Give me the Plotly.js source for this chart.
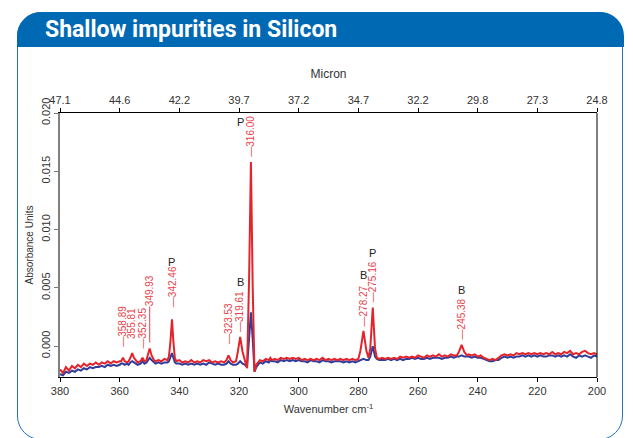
<!DOCTYPE html>
<html><head><meta charset="utf-8">
<script src="https://cdn.plot.ly/plotly-3.0.1.min.js"></script>
<style>
body{margin:0;background:#fff;}
#wrap{position:relative;width:633px;height:438px;overflow:hidden;background:#fff;}
#frame{position:absolute;left:17px;top:12px;width:604px;height:426px;border:1.5px solid #1f72b8;border-radius:24px;}
#band{position:absolute;left:17px;top:12px;width:607px;height:35px;background:#0069b4;border-radius:24px 24px 0 0;}
#chart{position:absolute;left:0;top:0;width:633px;height:438px;}
</style></head>
<body>
<div id="wrap"><div id="frame"></div><div id="band"></div><div id="chart"></div></div>
<script>
// Wavenumber (cm-1)
const wavenumber = [380,379,378,377,376,375,374,373,372,371,370,369,368,367,366,365,364,363,362,361,360,
359.5,358.9,358.3,357.5,357,356.4,355.8,355.2,354.5,354,353,352.35,351.7,351,350.5,349.93,349.3,348.5,348,347,346,345,344,
343.5,343,342.46,342,341.5,341,340,339,338,337,336,335,334,333,332,331,330,329,328,327,326,325,
324.2,323.53,322.8,322,321,320.4,319.61,318.8,318,317.3,316.6,316,315.4,314.8,314.2,313.5,313,312,311,310,309.5,309,308,307,306,305,304,303,302,301,300,
299,298,297,296,295,294,293,292,291,290,289,288,287,286,285,284,283,282,281,280,
279.3,278.27,277.3,276.6,276,275.16,274.4,273.8,273,272,271,270,269,268,267,266,265,264,263,262,261,260,
259,258,257,256,255,254,253,252,251,250,249,248,247,246.3,245.38,244.5,243.5,243,242,241,240,
239,238,237,236,235,234,233,232,231,230,229,228,227,226,225,224,223,222,221,220,
219,218,217,216,215,214,213,212,211,210,209,208,207,206,205,204,203,202,201,200];

// Red spectrum (absorbance units)
const redAbs = [-0.0020,-0.0023,-0.0018,-0.0021,-0.0017,-0.0019,-0.0016,-0.0018,-0.0015,-0.0017,-0.0015,-0.0016,-0.0014,-0.0016,-0.0014,-0.0015,-0.0013,-0.0015,-0.0013,-0.0014,-0.0013,
-0.0013,-0.0010,-0.0013,-0.0014,-0.0013,-0.0010,-0.0006,-0.0010,-0.0013,-0.0014,-0.0013,-0.0010,-0.0013,-0.0012,-0.0007,-0.0002,-0.0008,-0.0012,-0.0013,-0.0012,-0.0013,-0.0011,-0.0012,
-0.0009,0.0003,0.0023,0.0004,-0.0010,-0.0013,-0.0012,-0.0014,-0.0013,-0.0014,-0.0012,-0.0014,-0.0013,-0.0014,-0.0012,-0.0013,-0.0012,-0.0014,-0.0013,-0.0014,-0.0013,-0.0014,
-0.0012,-0.0008,-0.0012,-0.0014,-0.0013,-0.0005,0.0008,-0.0005,-0.0014,-0.0019,0.0060,0.0158,0.0050,-0.0022,-0.0016,-0.0013,-0.0012,-0.0013,-0.0011,-0.0012,-0.0010,-0.0012,-0.0011,-0.0012,-0.0010,-0.0011,-0.0010,-0.0011,-0.0010,-0.0011,-0.0010,
-0.0012,-0.0011,-0.0012,-0.0011,-0.0012,-0.0011,-0.0012,-0.0010,-0.0012,-0.0011,-0.0012,-0.0011,-0.0012,-0.0011,-0.0012,-0.0011,-0.0012,-0.0011,-0.0012,-0.0011,
-0.0004,0.0013,-0.0004,-0.0010,-0.0002,0.0033,-0.0002,-0.0010,-0.0011,-0.0010,-0.0011,-0.0010,-0.0011,-0.0010,-0.0011,-0.0009,-0.0010,-0.0009,-0.0010,-0.0009,-0.0010,-0.0008,
-0.0009,-0.0010,-0.0008,-0.0009,-0.0008,-0.0009,-0.0007,-0.0009,-0.0008,-0.0009,-0.0007,-0.0008,-0.0008,-0.0005,0.0001,-0.0005,-0.0008,-0.0007,-0.0008,-0.0007,-0.0009,
-0.0008,-0.0010,-0.0011,-0.0012,-0.0011,-0.0012,-0.0010,-0.0008,-0.0007,-0.0008,-0.0007,-0.0008,-0.0006,-0.0007,-0.0006,-0.0007,-0.0006,-0.0007,-0.0006,-0.0007,
-0.0006,-0.0007,-0.0006,-0.0007,-0.0005,-0.0007,-0.0006,-0.0007,-0.0005,-0.0006,-0.0004,-0.0007,-0.0006,-0.0007,-0.0005,-0.0004,-0.0006,-0.0007,-0.0006,-0.0007];

// Blue spectrum (absorbance units)
const blueAbs = [-0.0024,-0.0025,-0.0022,-0.0023,-0.0021,-0.0022,-0.0020,-0.0021,-0.0019,-0.0020,-0.0018,-0.0019,-0.0018,-0.0018,-0.0017,-0.0018,-0.0016,-0.0017,-0.0016,-0.0017,-0.0016,
-0.0015,-0.0015,-0.0016,-0.0015,-0.0016,-0.0014,-0.0013,-0.0014,-0.0015,-0.0016,-0.0015,-0.0013,-0.0015,-0.0014,-0.0012,-0.0010,-0.0012,-0.0014,-0.0015,-0.0014,-0.0015,-0.0014,-0.0014,
-0.0013,-0.0010,-0.0006,-0.0010,-0.0014,-0.0015,-0.0015,-0.0016,-0.0015,-0.0016,-0.0015,-0.0016,-0.0015,-0.0016,-0.0015,-0.0016,-0.0014,-0.0015,-0.0016,-0.0015,-0.0016,-0.0016,
-0.0015,-0.0013,-0.0015,-0.0016,-0.0016,-0.0015,-0.0013,-0.0015,-0.0016,-0.0018,0.0008,0.0029,0.0006,-0.0022,-0.0018,-0.0015,-0.0014,-0.0015,-0.0013,-0.0014,-0.0012,-0.0013,-0.0013,-0.0014,-0.0012,-0.0013,-0.0012,-0.0013,-0.0012,-0.0013,-0.0012,
-0.0013,-0.0013,-0.0014,-0.0012,-0.0013,-0.0013,-0.0014,-0.0012,-0.0013,-0.0013,-0.0014,-0.0013,-0.0013,-0.0013,-0.0014,-0.0013,-0.0014,-0.0013,-0.0014,-0.0013,
-0.0012,-0.0011,-0.0012,-0.0012,-0.0009,0.0000,-0.0009,-0.0011,-0.0012,-0.0012,-0.0012,-0.0011,-0.0012,-0.0011,-0.0012,-0.0011,-0.0012,-0.0011,-0.0011,-0.0010,-0.0011,-0.0010,
-0.0011,-0.0011,-0.0010,-0.0011,-0.0010,-0.0010,-0.0010,-0.0011,-0.0010,-0.0010,-0.0009,-0.0010,-0.0009,-0.0009,-0.0008,-0.0009,-0.0009,-0.0009,-0.0010,-0.0009,-0.0010,
-0.0010,-0.0011,-0.0012,-0.0013,-0.0013,-0.0012,-0.0012,-0.0010,-0.0009,-0.0010,-0.0009,-0.0010,-0.0009,-0.0009,-0.0008,-0.0009,-0.0008,-0.0009,-0.0008,-0.0009,
-0.0008,-0.0009,-0.0009,-0.0008,-0.0008,-0.0009,-0.0008,-0.0009,-0.0008,-0.0009,-0.0007,-0.0009,-0.0010,-0.0008,-0.0009,-0.0008,-0.0009,-0.0010,-0.0008,-0.0009];

// Axis ticks
const xTickVals = [380,360,340,320,300,280,260,240,220,200];
const micronLabels = ['47.1','44.6','42.2','39.7','37.2','34.7','32.2','29.8','27.3','24.8'];
const yTickVals = [0.000,0.005,0.010,0.015,0.020];

// Peak labels
const peakWn = [358.89,355.81,352.35,342.46,323.53,319.61,316.00,278.27,275.16,245.38];
const peakText = ['358.89','355.81','352.35','342.46','323.53','319.61','316.00','278.27','275.16','245.38'];
const peakDash = [true,false,true,true,true,true,true,true,true,true];
const peakLabelY = [-0.0001,0.0005,-0.0003,0.0033,0.0001,0.0011,0.0162,0.0016,0.0037,0.0005];
// Leader-line label
const leaderWn = 349.93, leaderText = '349.93', leaderPeak = -0.0002;

// Impurity letters
const letterWn = [342.46,319.61,319.5,278.27,275.16,245.38];
const letterText = ['P','B','P','B','P','B'];
const letterY = [0.0072,0.0055,0.0192,0.0061,0.0080,0.0048];

const RED = '#e3242b', BLUE = '#2e3d9c', LABELRED = '#e8434b';
const FONT = 'Liberation Sans, Arial, Helvetica, sans-serif';

const traces = [
  {x: wavenumber, y: blueAbs, type:'scatter', mode:'lines', line:{color:BLUE, width:2}, showlegend:false, hoverinfo:'skip'},
  {x: wavenumber, y: redAbs, type:'scatter', mode:'lines', line:{color:RED, width:2}, showlegend:false, hoverinfo:'skip'},
  {x: wavenumber, y: redAbs, xaxis:'x2', type:'scatter', mode:'none', showlegend:false, hoverinfo:'skip'}
];

const annotations = [];
peakWn.forEach((w,i)=>{
  annotations.push({x:w, y:peakLabelY[i], xref:'x', yref:'y', text:(peakDash[i]?'\u2014':'')+peakText[i],
    showarrow:false, textangle:-90, xanchor:'center', yanchor:'bottom', borderpad:0,
    font:{family:FONT, size:10, color:LABELRED}});
});
annotations.push({x:leaderWn, y:leaderPeak, xref:'x', yref:'y', text:leaderText, showarrow:true, arrowhead:0,
  arrowwidth:1, arrowcolor:LABELRED, ax:0, ay:-58, standoff:6, textangle:-90, borderpad:0,
  font:{family:FONT, size:10, color:LABELRED}});
letterWn.forEach((w,i)=>{
  annotations.push({x:w, y:letterY[i], xref:'x', yref:'y', text:letterText[i], showarrow:false,
    xanchor:'center', yanchor:'middle', font:{family:FONT, size:11, color:'#222'}});
});

const layout = {
  width:633, height:438,
  margin:{l:60, r:36, t:113, b:61},
  paper_bgcolor:'rgba(0,0,0,0)', plot_bgcolor:'rgba(0,0,0,0)',
  font:{family:FONT, color:'#333'},
  title:{text:'Shallow impurities in Silicon', xref:'container', yref:'container', x:45/633, xanchor:'left',
    y:1-29/438, yanchor:'middle', font:{family:'Liberation Sans Narrow, Arial Narrow, Roboto, sans-serif', size:23, color:'#ffffff', weight:'bold'}},
  xaxis:{range:[380,200], tickvals:xTickVals, ticks:'outside', ticklen:4, tickcolor:'#000', showline:true, linecolor:'#000', linewidth:1,
    showgrid:false, zeroline:false, tickfont:{family:FONT, size:11, color:'#333'},
    title:{text:'Wavenumber cm<sup>-1</sup>', font:{family:FONT, size:11, color:'#333'}, standoff:9}},
  xaxis2:{overlaying:'x', side:'top', range:[380,200], tickvals:xTickVals, ticktext:micronLabels, ticks:'outside', ticklen:4,
    tickcolor:'#000', showline:true, linecolor:'#000', linewidth:1, showgrid:false, zeroline:false,
    tickfont:{family:FONT, size:11, color:'#333'},
    title:{text:'Micron', font:{family:FONT, size:12, color:'#333'}, standoff:12}},
  yaxis:{range:[-0.00265,0.020], tickvals:yTickVals, tickformat:'.3f', tickangle:-90, ticks:'outside', ticklen:4, tickcolor:'#777',
    showline:true, linecolor:'#808080', linewidth:2, showgrid:false, zeroline:false,
    tickfont:{family:FONT, size:11, color:'#333'},
    title:{text:'Absorbance Units', font:{family:FONT, size:10, color:'#333'}, standoff:4}},
  shapes:[{type:'line', xref:'paper', yref:'paper', x0:1, x1:1, y0:0, y1:1, line:{color:'#000', width:1}}],
  annotations: annotations
};

Plotly.newPlot('chart', traces, layout, {staticPlot:true, displayModeBar:false});
</script>
</body></html>
